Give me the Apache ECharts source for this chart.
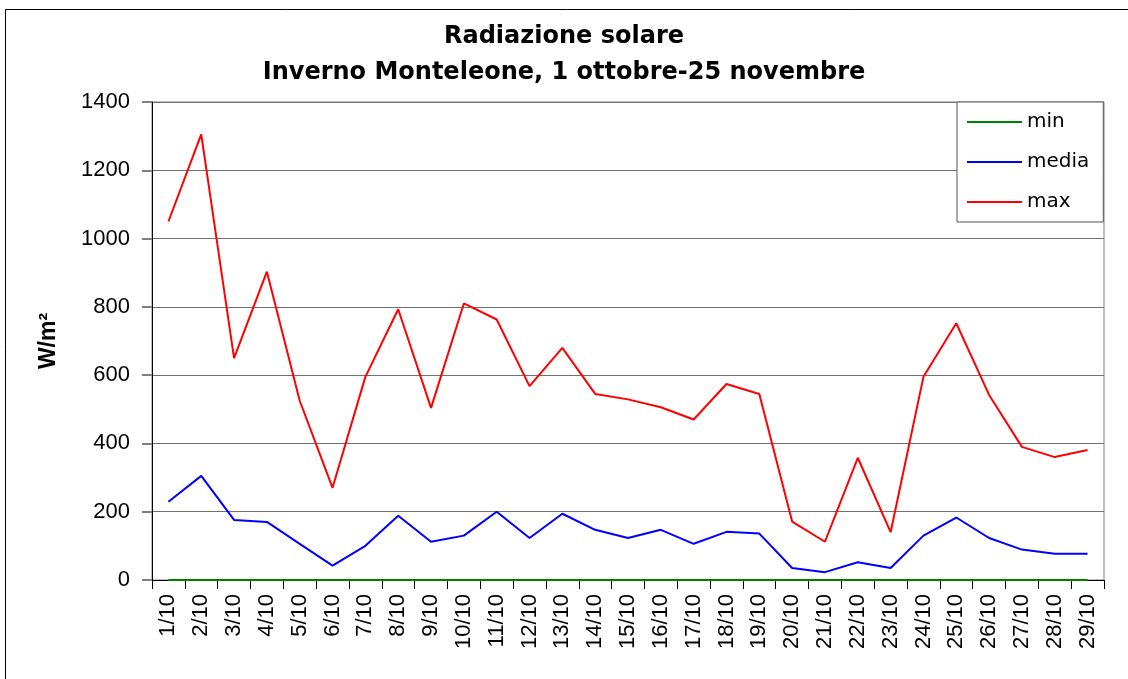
<!DOCTYPE html>
<html>
<head>
<meta charset="utf-8">
<script src="https://cdn.jsdelivr.net/npm/echarts@6/dist/echarts.min.js"></script>
<style>
  html, body { margin: 0; padding: 0; background: #fff; }
  #chart { width: 1128px; height: 679px; }
</style>
</head>
<body>
<div id="chart"></div>
<script>
// giorni di ottobre
const days = ['1/10','2/10','3/10','4/10','5/10','6/10','7/10','8/10','9/10','10/10',
  '11/10','12/10','13/10','14/10','15/10','16/10','17/10','18/10','19/10','20/10',
  '21/10','22/10','23/10','24/10','25/10','26/10','27/10','28/10','29/10']

const minVals = [0,0,0,0,0,0,0,0,0,0, 0,0,0,0,0,0,0,0,0,0, 0,0,0,0,0,0,0,0,0]
const mediaVals = [229,305,176,170,106,42,100,188,112,130,
  200,123,194,147,123,147,106,141,136,35,
  23,52,35,130,183,123,89,77,77]
const maxVals = [1050,1305,650,903,525,270,595,793,504,810,
  763,568,680,545,529,506,470,574,545,171,
  112,358,140,595,752,542,390,360,381]

const yTicks = { min: 0, max: 1400, step: 200 }

const myChart = echarts.init(document.getElementById('chart'))
const font = 'Liberation Sans, Arial, sans-serif'
const wide = 'DejaVu Sans, sans-serif'

myChart.setOption({
  animation: false,
  backgroundColor: '#fff',
  title: {
    text: 'Radiazione solare\nInverno Monteleone, 1 ottobre-25 novembre',
    left: 'center',
    top: 14,
    textStyle: { fontFamily: wide, fontSize: 24, fontWeight: 'bold', color: '#000', lineHeight: 36 }
  },
  graphic: [{
    type: 'rect',
    shape: { x: 5.5, y: 9.5, width: 1140, height: 700 },
    style: { fill: 'none', stroke: '#000', lineWidth: 1 },
    silent: true,
    z: -1
  }],
  legend: {
    orient: 'vertical',
    left: 957,
    top: 102,
    width: 146,
    padding: [10, 14, 10, 10],
    itemGap: 20,
    itemWidth: 55,
    itemHeight: 2,
    icon: 'rect',
    backgroundColor: '#fff',
    borderColor: '#555',
    borderWidth: 1,
    textStyle: { fontFamily: wide, fontSize: 20, color: '#000' },
    data: ['min', 'media', 'max']
  },
  grid: {
    left: 152, right: 24, top: 102, bottom: 99,
    show: true, borderColor: '#808080', borderWidth: 1
  },
  xAxis: {
    type: 'category',
    data: days,
    boundaryGap: true,
    axisLine: { lineStyle: { color: '#000', width: 1 } },
    axisTick: { show: true, length: 9, interval: 0, lineStyle: { color: '#000' } },
    axisLabel: { rotate: 90, interval: 0, margin: 14, fontFamily: font, fontSize: 22, color: '#000' }
  },
  yAxis: {
    type: 'value',
    min: yTicks.min, max: yTicks.max, interval: yTicks.step,
    name: 'W/m²',
    nameLocation: 'middle',
    nameGap: 92,
    nameRotate: 90,
    nameTextStyle: { fontFamily: font, fontSize: 23, fontWeight: 'bold', color: '#000' },
    axisLine: { show: true, lineStyle: { color: '#000' } },
    axisTick: { show: true, length: 10, lineStyle: { color: '#808080', width: 2 } },
    axisLabel: { margin: 22, fontFamily: font, fontSize: 22, color: '#000', formatter: v => String(v) },
    splitLine: { lineStyle: { color: '#707070', width: 1 } }
  },
  series: [
    { name: 'min', type: 'line', data: minVals, symbol: 'none', zlevel: 1, clip: false,
      lineStyle: { color: '#008000', width: 2 }, itemStyle: { color: '#008000' } },
    { name: 'media', type: 'line', data: mediaVals, symbol: 'none',
      lineStyle: { color: '#0000ff', width: 2 }, itemStyle: { color: '#0000ff' } },
    { name: 'max', type: 'line', data: maxVals, symbol: 'none',
      lineStyle: { color: '#ff0000', width: 2 }, itemStyle: { color: '#ff0000' } }
  ]
})
</script>
</body>
</html>
